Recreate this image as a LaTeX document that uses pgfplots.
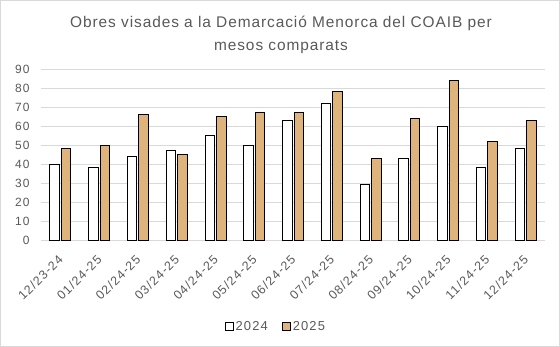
\documentclass[border=0pt]{standalone}
\usepackage{pgfplots}
\pgfplotsset{compat=1.18}
\usepackage{fontspec}
\setmainfont{Liberation Sans}[LetterSpace=6]
\newfontfamily\widefont{Liberation Sans}[LetterSpace=9]
\definecolor{txt}{HTML}{595959}
\definecolor{grid}{HTML}{D9D9D9}
\definecolor{tan}{HTML}{DFB47C}
\begin{document}
\begin{tikzpicture}[x=1bp,y=1bp]
\draw[draw=grid, line width=1bp] (-40.5bp,-106.5bp) rectangle (518.5bp,239.5bp);
\begin{axis}[
  at={(0,0)}, anchor=south west,
  scale only axis, width=504bp, height=171bp,
  ybar=2bp, bar width=9.5bp,
  xmin=-0.5, xmax=12.5, ymin=0, ymax=90,
  ytick={0,10,...,90},
  xtick=data,
  xticklabels={12/23-24,01/24-25,02/24-25,03/24-25,04/24-25,05/24-25,06/24-25,07/24-25,08/24-25,09/24-25,10/24-25,11/24-25,12/24-25},
  x tick label style={xshift=-3bp, yshift=-14bp, rotate=45, anchor=north east, font=\widefont\fontsize{12.5}{14}\selectfont, text=txt, inner sep=0bp},
  y tick label style={font=\widefont\fontsize{12}{14}\selectfont, text=txt, xshift=-8bp},
  /pgf/number format/assume math mode=true,
  axis y line*=left, y axis line style={draw=none},
  axis x line*=bottom, x axis line style={draw=grid, line width=1bp},
  major tick length=0pt,
  ymajorgrids, grid style={draw=grid, line width=1bp},
  title={Obres visades a la Demarcació Menorca del COAIB per\\mesos comparats},
  title style={align=center, font=\fontsize{15.5}{23}\selectfont, text=txt, yshift=6bp, xshift=-12bp},
  legend style={at={(0.466,-0.505)}, anchor=center, draw=none, legend columns=2, font=\widefont\fontsize{13}{15}\selectfont, text=txt, /tikz/every even column/.append style={column sep=12bp}},
  legend image code/.code={\draw[#1] (0bp,-4bp) rectangle (8bp,4bp);},
  clip=false,
]
\addplot[draw=black, fill=white, line width=0.9bp] coordinates {(0,40) (1,38) (2,44) (3,47) (4,55) (5,50) (6,63) (7,72) (8,29) (9,43) (10,60) (11,38) (12,48)};
\addplot[draw=black, fill=tan, line width=0.9bp] coordinates {(0,48) (1,50) (2,66) (3,45) (4,65) (5,67) (6,67) (7,78) (8,43) (9,64) (10,84) (11,52) (12,63)};
\legend{2024,2025}
\end{axis}
\end{tikzpicture}
\end{document}
